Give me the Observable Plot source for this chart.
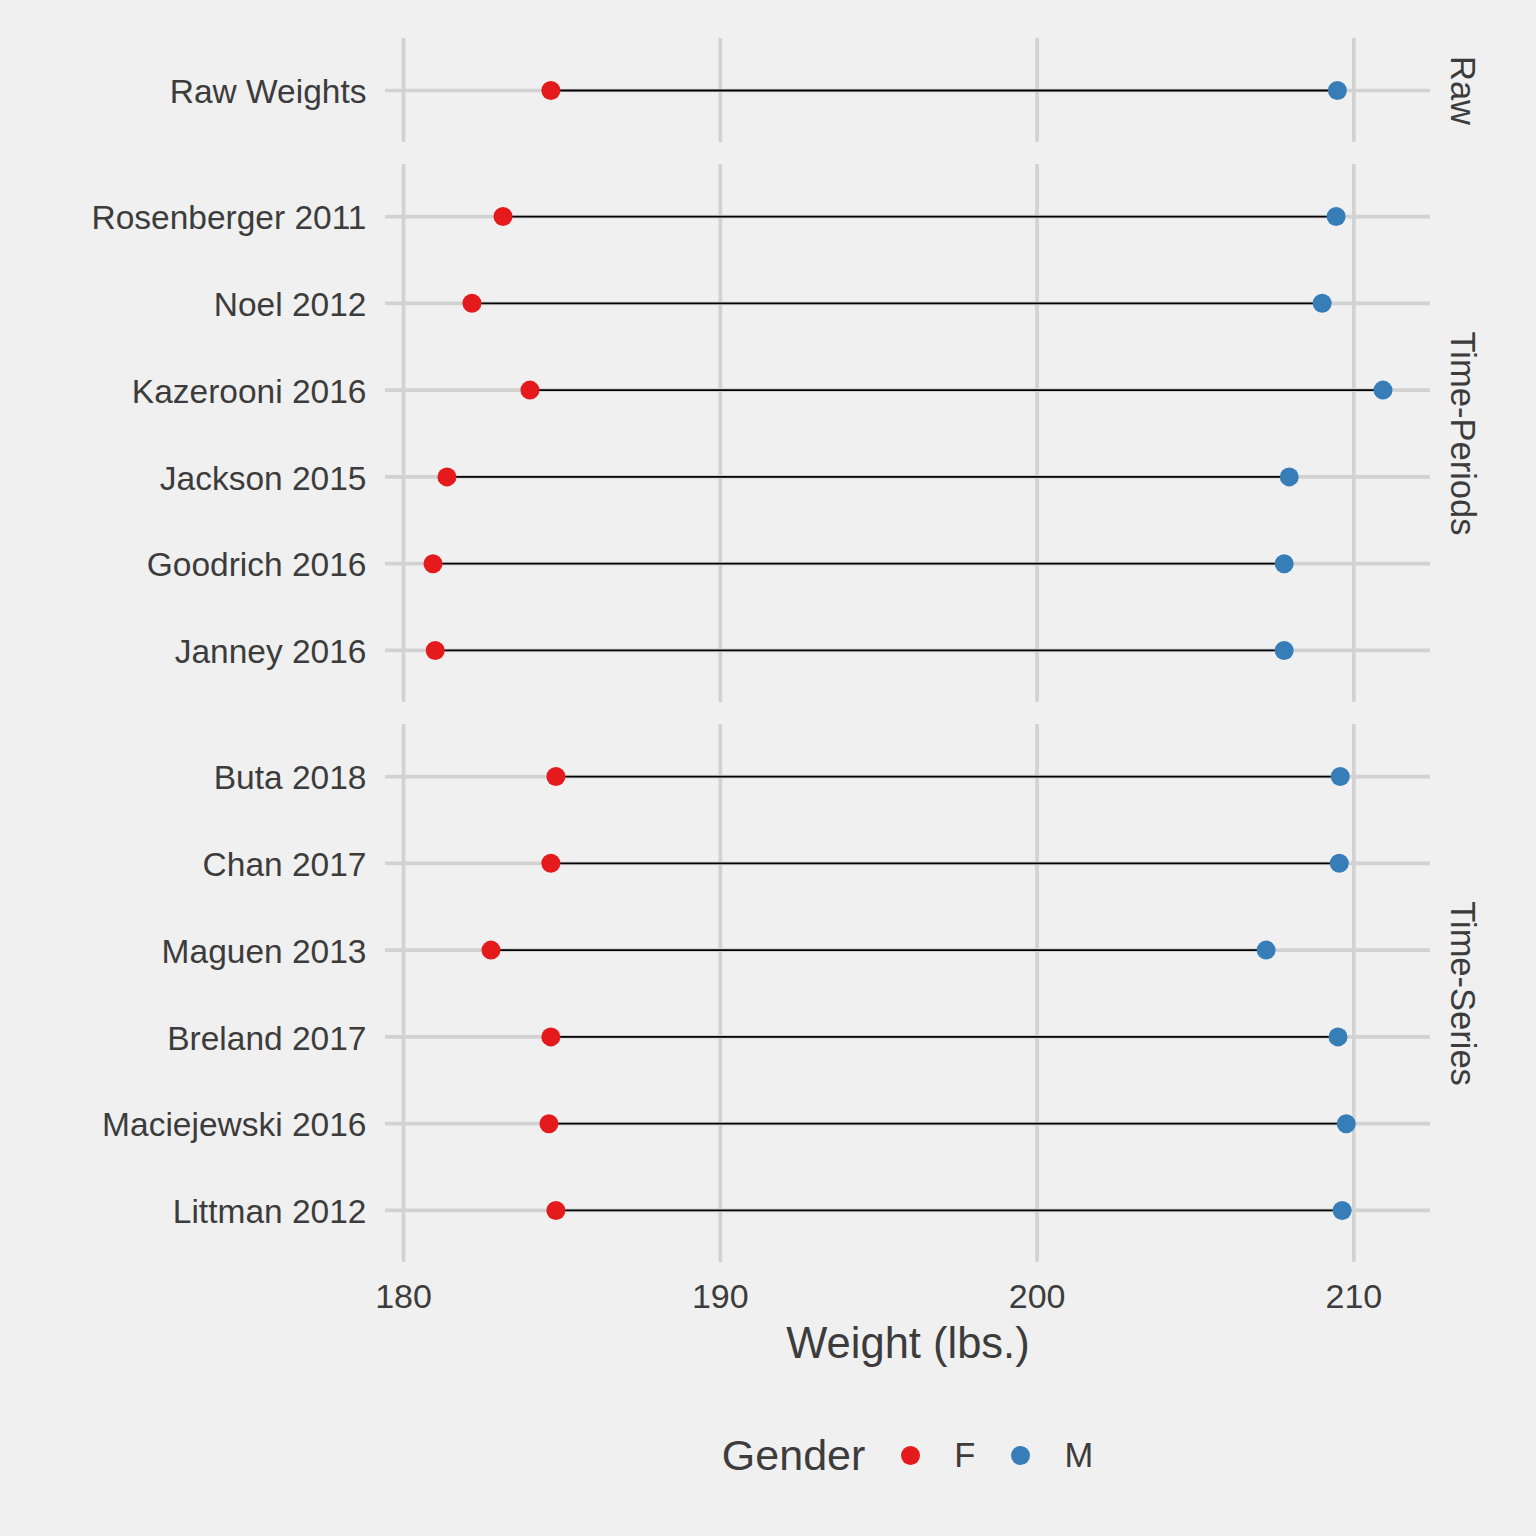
<!DOCTYPE html>
<html>
<head>
<meta charset="utf-8">
<script src="https://cdn.jsdelivr.net/npm/d3@7"></script>
<script src="https://cdn.jsdelivr.net/npm/@observablehq/plot@0.6"></script>
<style>
  html, body { margin: 0; padding: 0; background: #F0F0F0; }
  #chart { width: 1536px; background: #F0F0F0; font-family: "Liberation Sans", Arial, sans-serif; color: #3C3C3C; }
  .legend { height: 106px; display: flex; align-items: center; justify-content: center; padding-left: 279px; box-sizing: border-box; width: 1536px; }
  .legend span { line-height: 1; }
  .sw { display: inline-block; width: 19px; height: 19px; border-radius: 50%; }
</style>
</head>
<body>
<div id="chart"></div>
<script>
// ---- data ----
const groups = ["Raw", "Time-Periods", "Time-Series"];
const studies = ["Raw Weights", "Rosenberger 2011", "Noel 2012", "Kazerooni 2016", "Jackson 2015", "Goodrich 2016", "Janney 2016",
                 "Buta 2018", "Chan 2017", "Maguen 2013", "Breland 2017", "Maciejewski 2016", "Littman 2012"];
const studyGroup = ["Raw", "Time-Periods", "Time-Periods", "Time-Periods", "Time-Periods", "Time-Periods", "Time-Periods",
                    "Time-Series", "Time-Series", "Time-Series", "Time-Series", "Time-Series", "Time-Series"];
const femaleWeight = [184.65, 183.14, 182.16, 183.99, 181.37, 180.93, 181.00, 184.81, 184.65, 182.76, 184.65, 184.59, 184.81];
const maleWeight   = [209.48, 209.44, 209.00, 210.92, 207.96, 207.80, 207.80, 209.57, 209.54, 207.23, 209.50, 209.76, 209.63];
const genders = ["F", "M"];
const genderColors = ["#E41A1C", "#377EB8"];
const xTicks = [180, 190, 200, 210];
const xTitle = "Weight (lbs.)";
const legendTitle = "Gender";

// ---- derived tables ----
const rows = studies.map((s, i) => ({study: s, group: studyGroup[i], F: femaleWeight[i], M: maleWeight[i]}));
const long = rows.flatMap(r => [{study: r.study, group: r.group, gender: "F", weight: r.F},
                                {study: r.study, group: r.group, gender: "M", weight: r.M}]);
const [lo, hi] = d3.extent([...femaleWeight, ...maleWeight]);
const pad = 0.05 * (hi - lo);
const xDomain = [lo - pad, hi + pad];

const GRID = "#D2D2D2", TEXT = "#3C3C3C";
const container = document.getElementById("chart");

groups.forEach((g, gi) => {
  const gRows = rows.filter(r => r.group === g);
  const gLong = long.filter(r => r.group === g);
  const names = gRows.map(r => r.study);
  const isLast = gi === groups.length - 1;
  const top = gi === 0 ? 38 : 22;
  const panelH = 86.8 * (names.length - 1 + 1.2);
  const bottom = isLast ? 140 : 0;
  const marks = [
    Plot.ruleX(xTicks, {stroke: GRID, strokeWidth: 3.7}),
    Plot.ruleY(names, {stroke: GRID, strokeWidth: 3.7}),
    Plot.ruleY(gRows, {y: "study", x1: "F", x2: "M", stroke: "black", strokeWidth: 1.8}),
    Plot.dot(gLong, {x: "weight", y: "study", fill: "gender", r: 9.5}),
    Plot.axisY({tickSize: 0, tickPadding: 19, fontSize: 33.5, fill: TEXT, label: null, dy: 2}),
    Plot.text([g], {frameAnchor: "right", textAnchor: "middle", dx: 32, rotate: 90, fontSize: 34.5, fill: TEXT})
  ];
  if (isLast) {
    marks.push(Plot.axisX({ticks: xTicks, tickSize: 0, tickPadding: 21, fontSize: 34, fill: TEXT, label: null}));
    marks.push(Plot.text([xTitle], {frameAnchor: "bottom", dy: 95, fontSize: 43.5, fill: TEXT}));
  }
  const svg = Plot.plot({
    width: 1536,
    height: Math.round(top + panelH + bottom),
    marginLeft: 385, marginRight: 106, marginTop: top, marginBottom: bottom,
    style: {background: "#F0F0F0", fontFamily: "'Liberation Sans', Arial, sans-serif", color: TEXT, overflow: "visible"},
    x: {domain: xDomain, axis: isLast ? undefined : null},
    y: {type: "point", domain: names, padding: 0.6, round: false},
    color: {domain: genders, range: genderColors},
    marks
  });
  container.appendChild(svg);
});

// legend
const leg = document.createElement("div");
leg.className = "legend";
let html = `<span style="font-size:43px;margin-right:36px">${legendTitle}</span>`;
genders.forEach((k, i) => {
  html += `<span class="sw" style="background:${genderColors[i]};margin-right:34px"></span>` +
          `<span style="font-size:34.5px;margin-right:${i === 0 ? 36 : 0}px">${k}</span>`;
});
leg.innerHTML = html;
container.appendChild(leg);
</script>
</body>
</html>
